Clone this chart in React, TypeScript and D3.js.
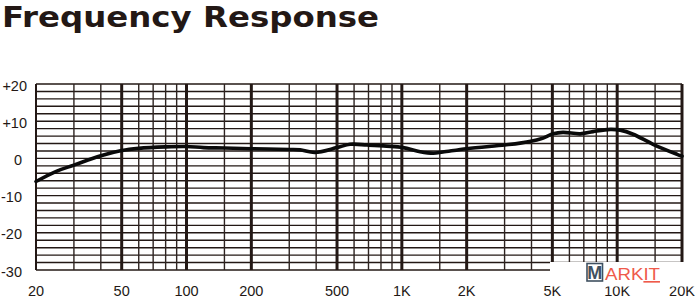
import React from "react";
import * as d3 from "d3";

const freqs = [20, 25, 30, 40, 50, 60, 80, 100, 120, 150, 200, 300, 337, 395, 500, 575, 690, 850, 1014, 1216, 1400, 1550, 2000, 3000, 3540, 4390, 5040, 5600, 6730, 7730, 9280, 10330, 11860, 14680, 18980, 20000];
const levels = [-6.2, -3.4, -1.8, 0.7, 2.1, 2.7, 3.1, 3.2, 2.9, 2.8, 2.6, 2.4, 2.3, 1.6, 2.9, 3.8, 3.6, 3.3, 2.9, 1.8, 1.4, 1.7, 2.6, 3.6, 4.1, 5.2, 6.6, 7.0, 6.6, 7.2, 7.8, 7.6, 6.5, 3.8, 1.1, 0.6];

const thinFreqs = [30, 40, 60, 70, 80, 90, 150, 300, 400, 600, 700, 800, 900, 1500, 3000, 4000, 6000, 7000, 8000, 9000, 15000];
const thickFreqs = [50, 100, 200, 500, 1000, 2000, 5000, 10000, 20000];
const xTickValues = [20, 50, 100, 200, 500, 1000, 2000, 5000, 10000, 20000];
const xTickLabels = ["20", "50", "100", "200", "500", "1K", "2K", "5K", "10K", "20K"];
const yTickValues = [20, 10, 0, -10, -20, -30];
const yTickLabels = ["+20", "+10", "0", "-10", "-20", "-30"];
const hGridValues = d3.range(-30, 20.01, 2);

const INK = "#231815";

export default function App() {
  const W = 700, H = 297;
  const x = d3.scaleLog().domain([20, 20000]).range([36, 682]);
  const y = d3.scaleLinear().domain([-30, 20]).range([270, 84]);
  const pts: [number, number][] = freqs.map((f, i) => [x(f), y(levels[i])]);
  const line = d3.line().curve(d3.curveCatmullRom.alpha(0.5))(pts) || "";
  const font = "Liberation Sans, Arial, sans-serif";

  return (
    <svg width={W} height={H} style={{ position: "absolute", left: 0, top: 0, background: "#fff" }}>
      <text x={2} y={27} style={{ fontFamily: "DejaVu Sans, Verdana, sans-serif" }} fontWeight="bold" fontSize={29} fill={INK} textLength={377} lengthAdjust="spacingAndGlyphs">
        Frequency Response
      </text>
      {hGridValues.map((v) => (
        <line key={"h" + v} x1={x(20)} x2={x(20000)} y1={y(v)} y2={y(v)} stroke={INK} strokeWidth={1.4} />
      ))}
      {thinFreqs.map((f) => (
        <line key={"t" + f} x1={x(f)} x2={x(f)} y1={y(20)} y2={y(-30)} stroke="#2e2421" strokeWidth={1.4} />
      ))}
      <line x1={x(20)} x2={x(20)} y1={y(20)} y2={y(-30)} stroke={INK} strokeWidth={2} />
      {thickFreqs.map((f) => (
        <line key={"k" + f} x1={x(f)} x2={x(f)} y1={y(20)} y2={y(-30)} stroke={INK} strokeWidth={3} />
      ))}
      <path d={line} fill="none" stroke="#0a0a0a" strokeWidth={3.6} strokeLinejoin="round" strokeLinecap="round" />
      {yTickValues.map((v, i) => (
        <text key={"y" + v} x={yTickLabels[i].startsWith("+") ? 27 : 22} y={y(v) + 6.5} textAnchor="end" style={{ fontFamily: font }} fontSize={14.5} fill={INK}>
          {yTickLabels[i]}
        </text>
      ))}
      {xTickValues.map((f, i) => (
        <text key={"x" + f} x={x(f)} y={295.5} textAnchor="middle" style={{ fontFamily: font }} fontSize={14.5} fill={INK}>
          {xTickLabels[i]}
        </text>
      ))}
      <rect x={550} y={262} width={150} height={24.5} fill="#fff" />
      <rect x={587} y={263.5} width={15.5} height={17.5} fill="#fff" stroke="#3f5060" strokeWidth={1.6} />
      <text x={594.8} y={279} textAnchor="middle" style={{ fontFamily: font }} fontWeight="bold" fontSize={18} fill="#3f5060">M</text>
      <text x={605} y={280} style={{ fontFamily: font }} fontSize={16.5} fill="#ef5a4a" textLength={55} lengthAdjust="spacingAndGlyphs">
        ARK<tspan textDecoration="underline">IT</tspan>
      </text>
    </svg>
  );
}
